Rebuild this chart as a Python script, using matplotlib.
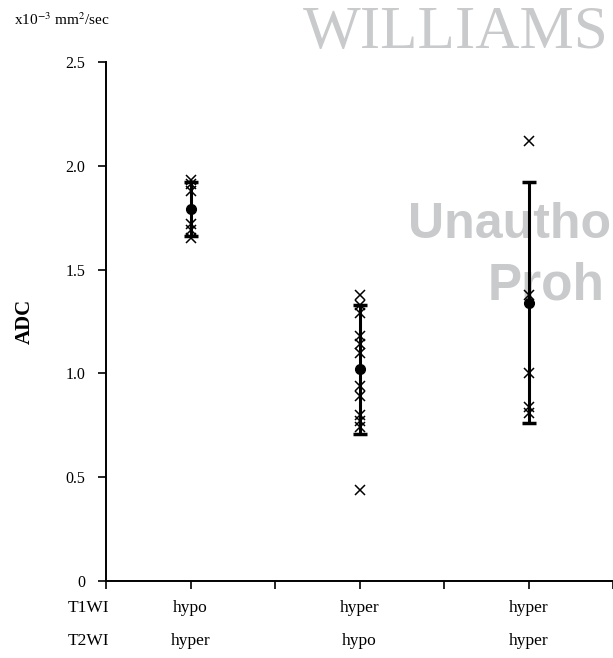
import numpy as np
import matplotlib.pyplot as plt

plt.rcParams['font.family'] = ['Liberation Serif', 'DejaVu Serif']
plt.rcParams['mathtext.fontset'] = 'stix'

# group positions (between ticks) and row labels
groups_x = [1, 3, 5]
t1_labels = ['hypo', 'hyper', 'hyper']
t2_labels = ['hyper', 'hypo', 'hyper']

# individual ADC values (x10^-3 mm2/sec)
g1_vals = [1.93, 1.91, 1.88, 1.72, 1.69, 1.65]
g2_vals = [1.38, 1.33, 1.29, 1.18, 1.14, 1.10, 0.94, 0.89, 0.80, 0.77, 0.74, 0.44]
g3_vals = [2.12, 1.38, 1.00, 0.84, 0.81]

means = [1.79, 1.02, 1.34]
sds = [0.13, 0.31, 0.58]

yticks = [0, 0.5, 1.0, 1.5, 2.0, 2.5]
ytick_labels = ['0', '0.5', '1.0', '1.5', '2.0', '2.5']

fig = plt.figure(figsize=(6.13, 6.58), dpi=100)
ax = fig.add_axes([106/613, 77/658, 507/613, 519/658])
ax.set_facecolor('none')

# watermark behind the data
wm = '#c9cacc'
fig.text(303/613, 1 - 48/658, 'WILLIAMS', fontsize=44, color=wm,
         family='Liberation Serif', ha='left', va='baseline', zorder=-1)
fig.text(408/613, 1 - 238/658, 'Unautho', fontsize=36, color=wm,
         family='Liberation Sans', weight='bold', ha='left', va='baseline', zorder=-1)
fig.text(488/613, 1 - 300/658, 'Proh', fontsize=37, color=wm,
         family='Liberation Sans', weight='bold', ha='left', va='baseline', zorder=-1)

for gx, vals in zip(groups_x, [g1_vals, g2_vals, g3_vals]):
    ax.plot([gx] * len(vals), vals, 'x', color='black', ms=7.5, mew=1.1, zorder=3)

ax.errorbar(groups_x, means, yerr=sds, fmt='o', color='black', ms=7,
            elinewidth=2.2, capsize=5, capthick=2.5, zorder=4)

ax.set_xlim(0, 6)
ax.set_ylim(0, 2.5)
ax.set_xticks(range(0, 7))
ax.set_xticklabels([])
ax.set_yticks(yticks)
ax.set_yticklabels(ytick_labels)
ax.tick_params(axis='both', direction='out', length=6, width=1.2, color='black')
ax.tick_params(axis='y', pad=9, labelsize=11.5)

for s in ['top', 'right']:
    ax.spines[s].set_visible(False)
for s in ['left', 'bottom']:
    ax.spines[s].set_linewidth(1.4)
ax.spines['bottom'].set_position(('data', 0))

# row labels under the axis
trans = ax.get_xaxis_transform()
fs = 12.5
ax.text(-0.45, -0.052, 'T1WI', transform=trans, ha='left', va='center', fontsize=fs)
ax.text(-0.45, -0.116, 'T2WI', transform=trans, ha='left', va='center', fontsize=fs)
for gx, a, b in zip(groups_x, t1_labels, t2_labels):
    ax.text(gx, -0.052, a, transform=trans, ha='center', va='center', fontsize=fs)
    ax.text(gx, -0.116, b, transform=trans, ha='center', va='center', fontsize=fs)

ax.set_ylabel('ADC', fontsize=15, weight='bold', labelpad=22)
fig.text(14/613, 1 - 20/658, r'x10$^{-3}$ mm$^{2}$/sec', fontsize=11,
         ha='left', va='center')

fig.savefig('out.png', dpi=100)
